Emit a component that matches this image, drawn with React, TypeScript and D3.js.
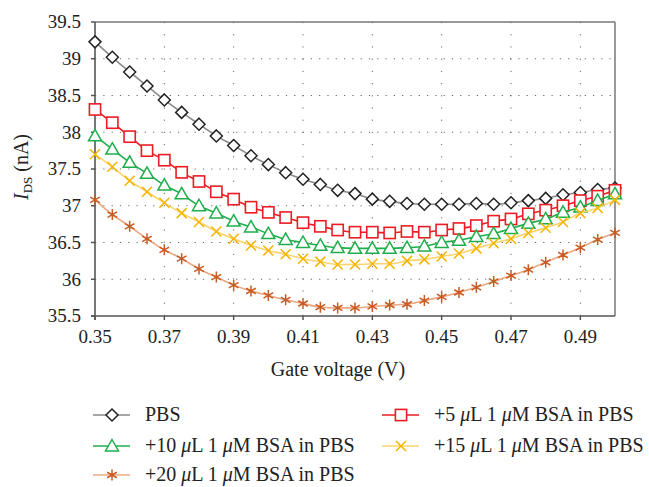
import React from 'react';
import * as d3 from 'd3';

// gate voltage steps, 0.35 .. 0.50 by 0.005
const voltages = [
  0.35, 0.355, 0.36, 0.365, 0.37, 0.375, 0.38, 0.385, 0.39, 0.395, 0.4, 0.405, 0.41, 0.415, 0.42, 0.425,
  0.43, 0.435, 0.44, 0.445, 0.45, 0.455, 0.46, 0.465, 0.47, 0.475, 0.48, 0.485, 0.49, 0.495, 0.5,
];

const pbs = [
  39.23, 39.02, 38.82, 38.63, 38.44, 38.27, 38.11, 37.95, 37.82, 37.68, 37.56, 37.45, 37.36, 37.29, 37.21, 37.165,
  37.09, 37.06, 37.03, 37.02, 37.02, 37.02, 37.03, 37.02, 37.04, 37.07, 37.1, 37.15, 37.18, 37.22, 37.24,
];
const bsa5 = [
  38.31, 38.13, 37.94, 37.75, 37.62, 37.455, 37.33, 37.19, 37.09, 36.98, 36.91, 36.84, 36.77, 36.72, 36.67, 36.64,
  36.64, 36.63, 36.65, 36.64, 36.67, 36.69, 36.73, 36.79, 36.82, 36.89, 36.94, 37.0, 37.07, 37.13, 37.21,
];
const bsa10 = [
  37.95, 37.77, 37.59, 37.44, 37.28, 37.16, 37.0, 36.9, 36.79, 36.71, 36.62, 36.54, 36.5, 36.46, 36.43, 36.42,
  36.42, 36.42, 36.43, 36.45, 36.5, 36.53, 36.58, 36.62, 36.69, 36.76, 36.82, 36.91, 36.98, 37.07, 37.16,
];
const bsa15 = [
  37.7, 37.53, 37.34, 37.19, 37.04, 36.9, 36.78, 36.65, 36.55, 36.46, 36.39, 36.34, 36.28, 36.24, 36.2, 36.2,
  36.21, 36.21, 36.25, 36.27, 36.31, 36.35, 36.42, 36.49, 36.55, 36.63, 36.7, 36.78, 36.9, 36.97, 37.08,
];
const bsa20 = [
  37.08, 36.88, 36.72, 36.55, 36.4, 36.28, 36.14, 36.03, 35.92, 35.84, 35.78, 35.72, 35.67, 35.62, 35.61, 35.61,
  35.63, 35.65, 35.66, 35.71, 35.76, 35.82, 35.89, 35.97, 36.05, 36.13, 36.23, 36.33, 36.43, 36.54, 36.63,
];

const xTicks = [0.35, 0.37, 0.39, 0.41, 0.43, 0.45, 0.47, 0.49];
const yTicks = [35.5, 36, 36.5, 37, 37.5, 38, 38.5, 39, 39.5];

const seriesNames = ['PBS', '+5', '+10', '+15', '+20'];

const FONT = "'Liberation Serif', 'DejaVu Serif', serif";

type Kind = 'diamond' | 'square' | 'triangle' | 'cross' | 'star';

const series = [
  { name: seriesNames[0], values: pbs, line: '#8a8a8a', mark: '#222', kind: 'diamond' as Kind },
  { name: seriesNames[1], values: bsa5, line: '#ec1c24', mark: '#ec1c24', kind: 'square' as Kind },
  { name: seriesNames[2], values: bsa10, line: '#1fae4b', mark: '#1fae4b', kind: 'triangle' as Kind },
  { name: seriesNames[3], values: bsa15, line: '#fbd46c', mark: '#f5b400', kind: 'cross' as Kind },
  { name: seriesNames[4], values: bsa20, line: '#eba882', mark: '#c85a22', kind: 'star' as Kind },
];

const Marker = ({ kind, x, y, color }: { kind: Kind; x: number; y: number; color: string }) => {
  if (kind === 'diamond') {
    const r = 6;
    return (
      <path d={`M${x},${y - r}L${x + r},${y}L${x},${y + r}L${x - r},${y}Z`} fill="#fff" stroke={color} strokeWidth={1.5} />
    );
  }
  if (kind === 'square') {
    const r = 5.6;
    return <rect x={x - r} y={y - r} width={r * 2} height={r * 2} fill="#fff" stroke={color} strokeWidth={1.6} />;
  }
  if (kind === 'triangle') {
    const r = 6.5;
    return (
      <path d={`M${x},${y - r}L${x + r},${y + r * 0.75}L${x - r},${y + r * 0.75}Z`} fill="#fff" stroke={color} strokeWidth={1.5} />
    );
  }
  if (kind === 'cross') {
    const r = 5;
    return (
      <path d={`M${x - r},${y - r}L${x + r},${y + r}M${x - r},${y + r}L${x + r},${y - r}`} stroke={color} strokeWidth={1.5} />
    );
  }
  const r = 5.5;
  const d = r * 0.87;
  return (
    <path
      d={`M${x},${y - r}L${x},${y + r}M${x - d},${y - r / 2}L${x + d},${y + r / 2}M${x - d},${y + r / 2}L${x + d},${y - r / 2}`}
      stroke={color}
      strokeWidth={1.5}
    />
  );
};

const Mu = () => <tspan fontStyle="italic">μ</tspan>;

const LegendLabel = ({ amount }: { amount: string }) => (
  <>
    {amount} <Mu />L 1 <Mu />M BSA in PBS
  </>
);

export default function App() {
  const width = 649;
  const height = 487;
  const left = 95;
  const right = 615;
  const top = 22;
  const bottom = 316;

  const x = d3.scaleLinear().domain([0.35, 0.5]).range([left, right]);
  const y = d3.scaleLinear().domain([35.5, 39.5]).range([bottom, top]);

  const line = d3
    .line<number>()
    .x((_, i) => x(voltages[i]))
    .y((d) => y(d))
    .curve(d3.curveMonotoneX);

  const legendItems = [
    { s: series[0], lx: 93, ly: 415, label: <>PBS</> },
    { s: series[1], lx: 382, ly: 415, label: <LegendLabel amount="+5" /> },
    { s: series[2], lx: 93, ly: 446, label: <LegendLabel amount="+10" /> },
    { s: series[3], lx: 382, ly: 446, label: <LegendLabel amount="+15" /> },
    { s: series[4], lx: 93, ly: 475, label: <LegendLabel amount="+20" /> },
  ];

  return (
    <svg
      width={width}
      height={height}
      style={{ position: 'absolute', left: 0, top: 0, background: '#fff', fontFamily: FONT }}
    >
      {/* grid */}
      {yTicks.slice(1, -1).map((t) => (
        <line key={'gy' + t} x1={left} x2={right} y1={y(t)} y2={y(t)} stroke="#666" strokeWidth={1} strokeDasharray="1.2,7.1" />
      ))}
      {xTicks.slice(1).map((t) => (
        <line key={'gx' + t} x1={x(t)} x2={x(t)} y1={top} y2={bottom} stroke="#666" strokeWidth={1} strokeDasharray="1.2,11" />
      ))}

      {/* frame */}
      <line x1={left} x2={right} y1={top} y2={top} stroke="#777" strokeWidth={1.5} />
      <line x1={right} x2={right} y1={top} y2={bottom} stroke="#777" strokeWidth={1.5} />
      <line x1={left} x2={left} y1={top} y2={bottom + 4} stroke="#555" strokeWidth={1.6} />
      <line x1={left - 4} x2={right} y1={bottom} y2={bottom} stroke="#555" strokeWidth={1.6} />

      {/* y axis */}
      {yTicks.map((t) => (
        <g key={'yt' + t}>
          <line x1={left - 4} x2={left} y1={y(t)} y2={y(t)} stroke="#555" strokeWidth={1.5} />
          <text x={81} y={y(t)} dy="0.33em" textAnchor="end" fontSize={19} fill="#222">
            {d3.format('~g')(t)}
          </text>
        </g>
      ))}

      {/* x axis */}
      {xTicks.map((t) => (
        <g key={'xt' + t}>
          <line x1={x(t)} x2={x(t)} y1={bottom} y2={bottom + 4} stroke="#555" strokeWidth={1.5} />
          <text x={x(t)} y={343} textAnchor="middle" fontSize={19} fill="#222">
            {d3.format('.2f')(t)}
          </text>
        </g>
      ))}

      <text x={338} y={376} textAnchor="middle" fontSize={20} fill="#222">
        Gate voltage (V)
      </text>
      <text transform={`translate(28,167) rotate(-90)`} textAnchor="middle" fontSize={20} fill="#222">
        <tspan fontStyle="italic">I</tspan>
        <tspan fontSize={13} dy={4}>DS</tspan>
        <tspan dy={-4}> (nA)</tspan>
      </text>

      {/* series */}
      {series.map((s) => (
        <g key={s.name}>
          <path d={line(s.values) ?? ''} fill="none" stroke={s.line} strokeWidth={1.6} />
          {s.values.map((v, i) => (
            <Marker key={i} kind={s.kind} x={x(voltages[i])} y={y(v)} color={s.mark} />
          ))}
        </g>
      ))}

      {/* legend */}
      {legendItems.map(({ s, lx, ly, label }) => (
        <g key={'lg' + s.name}>
          <line x1={lx} x2={lx + 37} y1={ly} y2={ly} stroke={s.line} strokeWidth={1.6} />
          <Marker kind={s.kind} x={lx + 19} y={ly} color={s.mark} />
          <text x={lx + 52} y={ly} dy="0.3em" fontSize={20} fill="#222">
            {label}
          </text>
        </g>
      ))}
    </svg>
  );
}
